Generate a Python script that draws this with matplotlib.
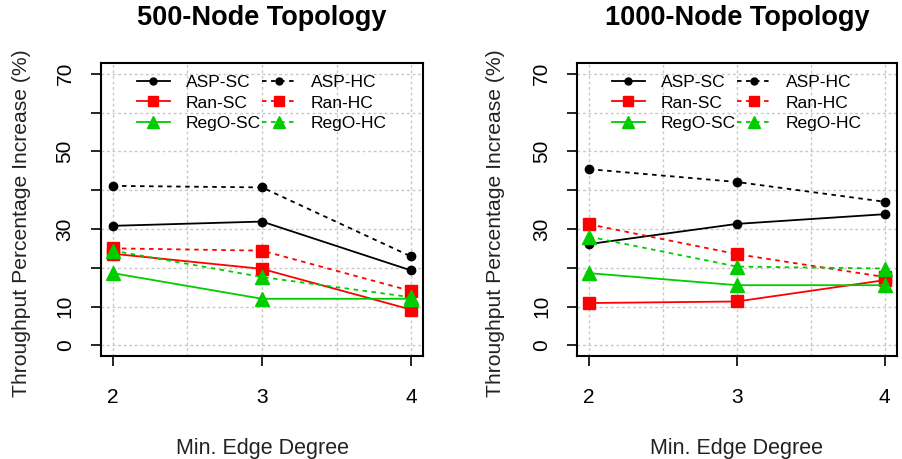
import matplotlib
matplotlib.use("Agg")
import matplotlib.pyplot as plt
from matplotlib.lines import Line2D

plt.rcParams['font.family'] = ['Liberation Sans', 'DejaVu Sans']

degrees = [2, 3, 4]

# 500-node topology
asp_sc_500 = [30.8, 31.9, 19.3]
asp_hc_500 = [41.1, 40.7, 22.9]
ran_sc_500 = [23.6, 19.7, 9.2]
ran_hc_500 = [25.0, 24.4, 14.0]
rego_sc_500 = [18.6, 12.0, 12.0]
rego_hc_500 = [24.4, 17.6, 12.4]

# 1000-node topology
asp_sc_1000 = [26.1, 31.3, 33.8]
asp_hc_1000 = [45.4, 42.1, 37.0]
ran_sc_1000 = [10.9, 11.3, 16.8]
ran_hc_1000 = [31.2, 23.5, 17.6]
rego_sc_1000 = [18.6, 15.5, 15.5]
rego_hc_1000 = [28.0, 20.3, 19.8]

titles = ['500-Node Topology', '1000-Node Topology']
labels = ['ASP-SC', 'ASP-HC', 'Ran-SC', 'Ran-HC', 'RegO-SC', 'RegO-HC']
colors = ['black', 'black', '#ff0000', '#ff0000', '#00cc00', '#00cc00']
markers = ['o', 'o', 's', 's', '^', '^']
msizes = [6, 6, 8, 8, 10, 10]
y_ticks = [0, 10, 20, 30, 40, 50, 60, 70]
y_ticklabels = ['0', '10', '', '30', '', '50', '', '70']

data = [
    [asp_sc_500, asp_hc_500, ran_sc_500, ran_hc_500, rego_sc_500, rego_hc_500],
    [asp_sc_1000, asp_hc_1000, ran_sc_1000, ran_hc_1000, rego_sc_1000, rego_hc_1000],
]

fig = plt.figure(figsize=(9.02, 4.59), dpi=100)
positions = [[0.112, 0.224, 0.357, 0.639], [0.640, 0.224, 0.354, 0.639]]
ylabel_x = [-0.216, -0.225]

for k in range(2):
    ax = fig.add_axes(positions[k])
    for i, series in enumerate(data[k]):
        ls = '-' if i % 2 == 0 else (0, (2.5, 2.5))
        ax.plot(degrees, series, color=colors[i], linestyle=ls, linewidth=1.3,
                marker=markers[i], markersize=msizes[i], zorder=3)

    ax.set_xlim(1.92, 4.08)
    ax.set_ylim(-2.8, 72.8)
    ax.set_xticks(degrees)
    ax.set_yticks(y_ticks)
    ax.set_yticklabels(y_ticklabels, rotation=90, va='center')
    for t in [2, 2.5, 3, 3.5, 4]:
        ax.axvline(t, color='#c8c8c8', linestyle=(0, (2, 2)), linewidth=1, zorder=0)
    for t in y_ticks:
        ax.axhline(t, color='#c8c8c8', linestyle=(0, (2, 2)), linewidth=1, zorder=0)
    ax.tick_params(axis='both', direction='out', length=7, width=1.2, labelsize=15, pad=12)
    ax.tick_params(axis='x', pad=16)
    for s in ax.spines.values():
        s.set_linewidth(1.5)

    ax.set_title(titles[k], fontsize=19.5, fontweight='bold', pad=27)
    ax.set_xlabel('Min. Edge Degree', fontsize=15.5, labelpad=22, color='#222222')
    ax.set_ylabel('Throughput Percentage Increase (%)', fontsize=15.2, color='#222222')
    ax.yaxis.set_label_coords(ylabel_x[k], 0.454)

    handles = []
    for i in [0, 2, 4, 1, 3, 5]:
        ls = '-' if i % 2 == 0 else (0, (2.5, 2.5))
        handles.append(Line2D([], [], color=colors[i], linestyle=ls, linewidth=1.3,
                              marker=markers[i], markersize=msizes[i] - 1))
    leg_labels = [labels[i] for i in [0, 2, 4, 1, 3, 5]]
    ax.legend(handles, leg_labels, loc='upper center', ncol=2, frameon=False,
              fontsize=12.5, handlelength=1.9, columnspacing=0.1, labelspacing=0.3,
              borderaxespad=0.3, handletextpad=0.9, bbox_to_anchor=(0.50, 1.0))

fig.savefig('out.png', dpi=100)
